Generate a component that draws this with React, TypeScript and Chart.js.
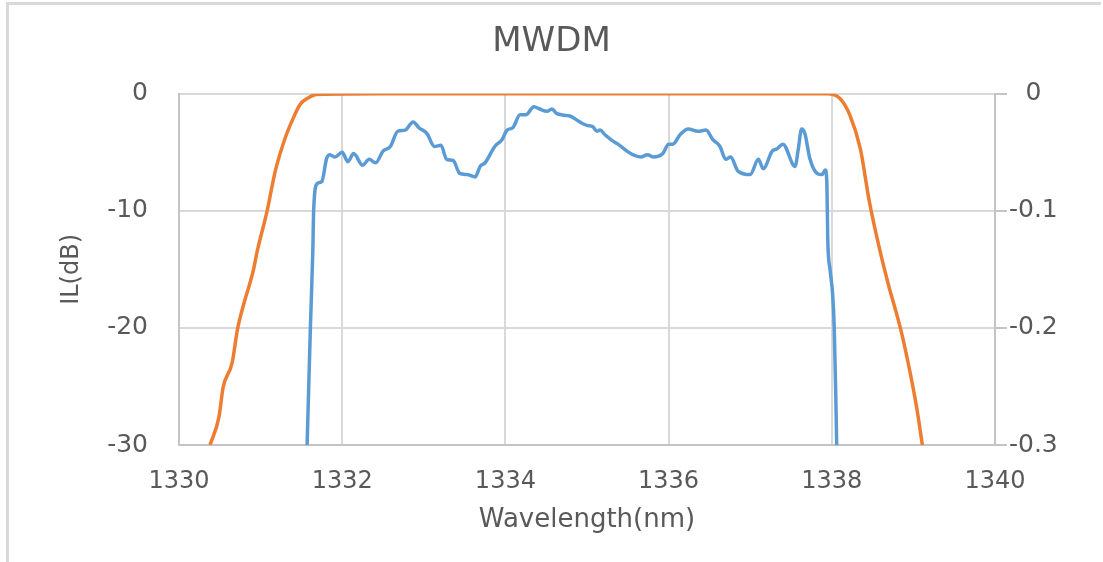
import React, { useEffect, useRef } from "react";
import { Chart, registerables } from "chart.js";

Chart.register(...registerables);

// Blue series: insertion loss (dB), left axis
const blueWavelength = [
  1331.57, 1331.61, 1331.64, 1331.65, 1331.69, 1331.75, 1331.81, 1331.85, 1331.91, 1332.0,
  1332.07, 1332.14, 1332.25, 1332.33, 1332.41, 1332.5, 1332.59, 1332.68, 1332.77, 1332.87,
  1332.94, 1333.04, 1333.13, 1333.21, 1333.28, 1333.36, 1333.44, 1333.53, 1333.63, 1333.69,
  1333.75, 1333.87, 1333.96, 1334.02, 1334.09, 1334.18, 1334.25, 1334.35, 1334.42, 1334.51,
  1334.57, 1334.63, 1334.79, 1334.91, 1335.0, 1335.07, 1335.12, 1335.16, 1335.22, 1335.31,
  1335.38, 1335.49, 1335.56, 1335.66, 1335.74, 1335.81, 1335.93, 1336.0, 1336.05, 1336.14,
  1336.24, 1336.36, 1336.46, 1336.54, 1336.63, 1336.7, 1336.76, 1336.85, 1337.0, 1337.1,
  1337.16, 1337.27, 1337.33, 1337.4, 1337.55, 1337.59, 1337.63, 1337.67, 1337.73, 1337.82,
  1337.88, 1337.92, 1337.94, 1337.95, 1337.98, 1338.01, 1338.03, 1338.05, 1338.06,
];
const blueIL = [
  -30, -20, -13.4, -10, -7.7, -7.5, -5.5, -5.2, -5.4, -5.0,
  -5.8, -5.1, -6.1, -5.6, -5.9, -4.9, -4.5, -3.2, -3.1, -2.4,
  -2.9, -3.4, -4.5, -4.4, -5.6, -5.7, -6.8, -6.9, -7.1, -6.2,
  -5.9, -4.5, -3.9, -3.1, -2.9, -1.8, -1.8, -1.1, -1.3, -1.5,
  -1.3, -1.7, -1.9, -2.4, -2.7, -2.8, -3.2, -3.1, -3.5, -4.0,
  -4.3, -4.9, -5.2, -5.4, -5.2, -5.4, -5.1, -4.3, -4.3, -3.5,
  -3.0, -3.2, -3.1, -3.9, -4.5, -5.6, -5.4, -6.6, -6.9, -5.6,
  -6.4, -4.9, -4.7, -4.3, -6.2, -4.7, -3.0, -3.4, -5.5, -6.8,
  -6.9, -6.5, -7.7, -12.3, -15.1, -17.1, -20, -26.2, -30,
];

// Orange series: right axis
const orangeWavelength = [
  1330.38, 1330.49, 1330.54, 1330.65, 1330.72, 1330.78, 1330.91, 1330.96, 1331.08, 1331.18,
  1331.3, 1331.38, 1331.48, 1331.57, 1331.69, 1332.5, 1333.5, 1334.5, 1335.5, 1336.5,
  1337.5, 1337.94, 1338.1, 1338.22, 1338.35, 1338.46, 1338.59, 1338.69, 1338.84, 1338.93,
  1339.04, 1339.11,
];
const orangeValue = [
  -0.3, -0.276, -0.251, -0.23, -0.2, -0.183, -0.151, -0.134, -0.1, -0.066,
  -0.038, -0.024, -0.0095, -0.004, -0.0005, 0, 0, 0, 0, 0,
  0, 0, -0.004, -0.018, -0.047, -0.092, -0.134, -0.162, -0.2, -0.228,
  -0.268, -0.3,
];

const xMin = 1330;
const xMax = 1340;
const xStep = 2;
const yMin = -30;
const yMax = 0;
const yStep = 10;
const y1Min = -0.3;
const y1Max = 0;
const y1Step = 0.1;

const chartTitle = "MWDM";
const xTitle = "Wavelength(nm)";
const yTitle = "IL(dB)";

const FONT = "'DejaVu Sans', sans-serif";
const TEXT = "#595959";
const GRID = "#d9d9d9";
const AXIS = "#c4c4c4";

export default function App() {
  const ref = useRef<HTMLCanvasElement>(null);

  useEffect(() => {
    if (!ref.current) return;
    const blue = blueWavelength.map((x, i) => ({ x, y: blueIL[i] }));
    const orange = orangeWavelength.map((x, i) => ({ x, y: orangeValue[i] }));
    const chart = new Chart(ref.current, {
      type: "line",
      data: {
        datasets: [
          {
            label: "IL",
            data: blue,
            yAxisID: "y",
            borderColor: "#5B9BD5",
            borderWidth: 3.5,
            pointRadius: 0,
            cubicInterpolationMode: "monotone",
            fill: false,
          },
          {
            label: "Ref",
            data: orange,
            yAxisID: "y1",
            borderColor: "#ED7D31",
            borderWidth: 3.5,
            pointRadius: 0,
            cubicInterpolationMode: "monotone",
            fill: false,
          },
        ],
      },
      options: {
        responsive: false,
        animation: false,
        devicePixelRatio: 1,
        layout: { padding: 0 },
        plugins: {
          legend: { display: false },
          tooltip: { enabled: false },
          title: {
            display: true,
            text: chartTitle,
            color: TEXT,
            font: { family: FONT, size: 34, weight: "normal" },
            padding: { top: 22, bottom: 31 },
          },
        },
        scales: {
          x: {
            type: "linear",
            min: xMin,
            max: xMax,
            ticks: {
              stepSize: xStep,
              color: TEXT,
              font: { family: FONT, size: 24 },
              padding: 22,
              callback: (v: any) => String(v),
            },
            grid: { color: GRID, lineWidth: 2, drawTicks: false },
            border: { color: AXIS, width: 2 },
            title: {
              display: true,
              text: xTitle,
              color: TEXT,
              font: { family: FONT, size: 26 },
              padding: { top: 26, bottom: 26 },
            },
            afterFit: (s: any) => {
              s.height = 117;
            },
          },
          y: {
            type: "linear",
            position: "left",
            min: yMin,
            max: yMax,
            ticks: {
              stepSize: yStep,
              color: TEXT,
              font: { family: FONT, size: 25 },
              padding: 31,
            },
            grid: { color: GRID, lineWidth: 2, drawTicks: false },
            border: { color: AXIS, width: 2 },
            title: {
              display: true,
              text: yTitle,
              color: TEXT,
              font: { family: FONT, size: 24 },
              padding: { top: 57, bottom: 57 },
            },
            afterFit: (s: any) => {
              s.width = 179;
            },
          },
          y1: {
            type: "linear",
            position: "right",
            min: y1Min,
            max: y1Max,
            ticks: {
              stepSize: y1Step,
              color: TEXT,
              font: { family: FONT, size: 25 },
              padding: 2,
              crossAlign: "center",
              callback: (v: any) => (Math.abs(Number(v)) < 1e-9 ? "0" : Number(v).toFixed(1)),
            },
            grid: { color: AXIS, lineWidth: 2, drawOnChartArea: false, drawTicks: true, tickLength: 12 },
            border: { color: AXIS, width: 2 },
            afterFit: (s: any) => {
              s.width = 1103 - 995;
            },
          },
        },
      },
    });
    return () => chart.destroy();
  }, []);

  return (
    <div style={{ position: "fixed", left: 0, top: 0, width: 1103, height: 562, background: "#fff" }}>
      <canvas ref={ref} width={1103} height={562} style={{ position: "absolute", left: 0, top: 0 }} />
      <div
        style={{
          position: "absolute",
          left: 6,
          top: 2,
          width: 1095,
          height: 560,
          borderTop: "3px solid #d9d9d9",
          borderLeft: "3px solid #d9d9d9",
          pointerEvents: "none",
          boxSizing: "border-box",
        }}
      />
    </div>
  );
}
